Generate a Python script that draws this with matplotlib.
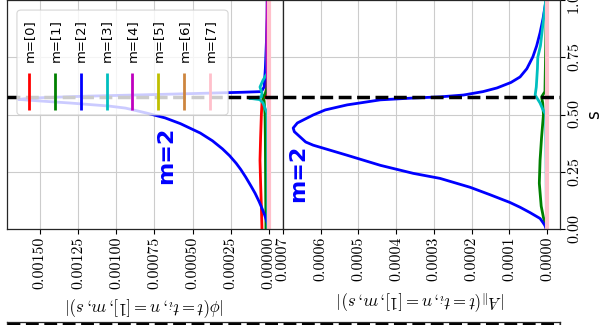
import matplotlib
matplotlib.use("Agg")
import matplotlib.pyplot as plt
from matplotlib.patches import FancyBboxPatch
from matplotlib.ticker import FormatStrFormatter

plt.rcParams['mathtext.fontset'] = 'cm'
plt.rcParams['axes.formatter.use_mathtext'] = True

# ---------------- data ----------------
labels = ['m=[0]', 'm=[1]', 'm=[2]', 'm=[3]', 'm=[4]', 'm=[5]', 'm=[6]', 'm=[7]']
colors = ['r', 'g', 'b', 'c', 'm', 'y', 'peru', 'pink']
s_mark = 0.577

# panel |phi|
phi_s_m0 = [0.0, 0.1, 0.2, 0.3, 0.4, 0.5, 0.56, 0.575, 0.585, 0.6, 0.7, 0.8, 0.9, 1.0]
phi_v_m0 = [4.6e-5, 5.0e-5, 5.5e-5, 5.9e-5, 5.5e-5, 5.0e-5, 4.5e-5, 3.0e-5, 2.0e-5, 1.8e-5, 1.6e-5, 1.3e-5, 1.0e-5, 5e-6]
phi_s_m1 = [0.0, 0.1, 0.2, 0.3, 0.4, 0.5, 0.56, 0.575, 0.59, 0.62, 0.7, 0.8, 0.9, 1.0]
phi_v_m1 = [2.0e-5, 2.1e-5, 2.2e-5, 2.3e-5, 2.4e-5, 2.6e-5, 3.2e-5, 4.2e-5, 2.5e-5, 1.2e-5, 8e-6, 6e-6, 4e-6, 2e-6]
phi_s_m2 = [0.0, 0.02, 0.04, 0.06, 0.079, 0.1, 0.12, 0.156, 0.19, 0.226, 0.26, 0.287, 0.32, 0.35, 0.385, 0.419,
            0.46, 0.485, 0.506, 0.528, 0.537, 0.55, 0.56, 0.566, 0.572, 0.58, 0.588, 0.594, 0.597, 0.6,
            0.62, 0.7, 0.8, 0.9, 1.0]
phi_v_m2 = [0.0, 8e-6, 1.8e-5, 2.8e-5, 3.9e-5, 5.2e-5, 6.5e-5, 9.1e-5, 1.2e-4, 1.52e-4, 1.85e-4, 2.15e-4, 2.58e-4,
            3.05e-4, 3.7e-4, 4.5e-4, 5.8e-4, 6.8e-4, 8.0e-4, 9.4e-4, 1.05e-3, 1.3e-3, 1.52e-3, 1.64e-3, 1.55e-3,
            1.2e-3, 7e-4, 3.5e-4, 1.8e-4, 5e-5, 3.2e-5, 2.4e-5, 1.8e-5, 1.2e-5, 5e-6]
phi_s_m3 = [0.0, 0.2, 0.4, 0.506, 0.55, 0.565, 0.571, 0.577, 0.594, 0.62, 0.65, 0.68, 0.75, 0.85, 1.0]
phi_v_m3 = [8e-6, 9e-6, 1.0e-5, 1.3e-5, 3.9e-5, 6e-5, 1.3e-4, 5e-5, 4.6e-5, 5.9e-5, 3.9e-5, 1.2e-5, 1.4e-5, 1.3e-5, 1.2e-5]
phi_s_m4 = [0.0, 0.5, 0.6, 0.7, 0.8, 0.9, 1.0]
phi_v_m4 = [2e-6, 3e-6, 6e-6, 1.2e-5, 1.5e-5, 1.4e-5, 1.2e-5]
phi_s_m5 = [0.0, 0.5, 1.0]
phi_v_m5 = [2e-6, 3e-6, 2e-6]
phi_s_m6 = [0.0, 0.5, 1.0]
phi_v_m6 = [1e-6, 2e-6, 1e-6]
phi_s_m7 = [0.0, 0.5, 1.0]
phi_v_m7 = [0.0, 0.0, 0.0]

# panel |A_par|
apar_s_m0 = [0.0, 0.5, 1.0]
apar_v_m0 = [1e-6, 2e-6, 1e-6]
apar_s_m1 = [0.0, 0.05, 0.1, 0.2, 0.3, 0.4, 0.5, 0.55, 0.577, 0.6, 0.7, 0.8, 0.9, 1.0]
apar_v_m1 = [1e-6, 1.0e-5, 1.6e-5, 2.1e-5, 1.9e-5, 1.5e-5, 1.0e-5, 1.2e-5, 1.5e-5, 6e-6, 5e-6, 4e-6, 3e-6, 2e-6]
apar_s_m2 = [0.0, 0.015, 0.03, 0.046, 0.072, 0.095, 0.116, 0.15, 0.182, 0.221, 0.243, 0.278, 0.322, 0.366,
             0.38, 0.401, 0.425, 0.441, 0.463, 0.498, 0.52, 0.542, 0.564, 0.572, 0.577, 0.585, 0.6, 0.616,
             0.64, 0.664, 0.7, 0.752, 0.8, 0.857, 0.92, 0.971, 1.0]
apar_v_m2 = [3e-6, 6e-6, 1.2e-5, 1.9e-5, 4.6e-5, 7.2e-5, 9.9e-5, 1.52e-4, 2.04e-4, 2.84e-4, 3.55e-4, 4.42e-4,
             5.30e-4, 6.20e-4, 6.40e-4, 6.54e-4, 6.70e-4, 6.73e-4, 6.62e-4, 6.20e-4, 5.88e-4, 5.30e-4, 4.42e-4,
             3.55e-4, 2.84e-4, 2.22e-4, 1.70e-4, 1.33e-4, 9.6e-5, 7.2e-5, 5.4e-5, 3.8e-5, 2.8e-5, 1.9e-5,
             1.1e-5, 6e-6, 3e-6]
apar_s_m3 = [0.0, 0.3, 0.5, 0.52, 0.55, 0.585, 0.62, 0.7, 0.75, 0.8, 0.9, 0.97, 1.0]
apar_v_m3 = [2e-6, 3e-6, 4e-6, 1.1e-5, 1.9e-5, 3.2e-5, 2.9e-5, 2.6e-5, 2.5e-5, 1.8e-5, 1.1e-5, 6e-6, 4e-6]
apar_s_m4 = [0.0, 0.5, 1.0]
apar_v_m4 = [1e-6, 2e-6, 1e-6]
apar_s_m5 = [0.0, 0.5, 1.0]
apar_v_m5 = [1e-6, 1e-6, 1e-6]
apar_s_m6 = [0.0, 0.5, 1.0]
apar_v_m6 = [1e-6, 1e-6, 1e-6]
apar_s_m7 = [0.0, 0.5, 1.0]
apar_v_m7 = [0.0, 0.0, 0.0]

phi_series = [(phi_s_m0, phi_v_m0), (phi_s_m1, phi_v_m1), (phi_s_m2, phi_v_m2), (phi_s_m3, phi_v_m3),
              (phi_s_m4, phi_v_m4), (phi_s_m5, phi_v_m5), (phi_s_m6, phi_v_m6), (phi_s_m7, phi_v_m7)]
apar_series = [(apar_s_m0, apar_v_m0), (apar_s_m1, apar_v_m1), (apar_s_m2, apar_v_m2), (apar_s_m3, apar_v_m3),
               (apar_s_m4, apar_v_m4), (apar_s_m5, apar_v_m5), (apar_s_m6, apar_v_m6), (apar_s_m7, apar_v_m7)]

phi_ticks = [0.0, 0.00025, 0.0005, 0.00075, 0.001, 0.00125, 0.0015]
apar_ticks = [0.0, 0.0001, 0.0002, 0.0003, 0.0004, 0.0005, 0.0006, 0.0007]
s_ticks = [0.0, 0.25, 0.5, 0.75, 1.0]

# ---------------- figure ----------------
W, H = 602, 325
fig = plt.figure(figsize=(W / 100, H / 100), dpi=100)

ax1 = fig.add_axes([7 / W, (H - 229) / H, 276 / W, 229 / H])
ax2 = fig.add_axes([283 / W, (H - 229) / H, 276.5 / W, 229 / H])
ax3 = fig.add_axes([7 / W, -0.2, 553 / W, 0.2 + (H - 321.5) / H])

for ax, series, ticks, fmt, xlim, lab in [
        (ax1, phi_series, phi_ticks, '%.5f', (0.001716, -0.0000917), r'$|\phi(t = t_i, n = [1], m, s)|$'),
        (ax2, apar_series, apar_ticks, '%.4f', (0.0007, -0.0000325), r'$|A_{\|}(t = t_i, n = [1], m, s)|$')]:
    for i, (ss, vv) in enumerate(series):
        lw = 3 if i == 7 else 2
        ax.plot(vv, ss, color=colors[i], lw=lw, zorder=2 + i * 0.01, solid_joinstyle='round')
    ax.axhline(s_mark, color='k', ls='--', lw=2.5, zorder=3)
    ax.set_xlim(*xlim)
    ax.set_ylim(0, 1)
    ax.set_xticks(ticks)
    ax.xaxis.set_major_formatter(FormatStrFormatter(fmt))
    ax.set_yticks(s_ticks)
    ax.yaxis.tick_right()
    ax.grid(True, color='0.8', lw=0.8, zorder=0)
    ax.set_axisbelow(True)
    ax.tick_params(axis='x', labelrotation=90, length=3.5, width=0.8, pad=2)
    ax.tick_params(axis='y', length=3.5, width=0.8, pad=2)
    for t in ax.get_xticklabels():
        t.set_fontfamily('cmr10')
        t.set_fontsize(11.5)
    ax.set_xlabel(lab, rotation=180, fontsize=12, labelpad=4)
    for sp in ax.spines.values():
        sp.set_linewidth(0.9)
        sp.set_color('0.15')

ax1.tick_params(axis='y', labelright=False)
for t in ax2.get_yticklabels():
    t.set_fontfamily('cmr10')
    t.set_fontsize(11.5)
    t.set_rotation(90)
    t.set_va('center')
ax2.yaxis.set_label_position('right')
ax2.set_ylabel('s', fontsize=12, labelpad=2)

ax1.text(0.576, 0.323, 'm=2', transform=ax1.transAxes, rotation=90, color='b',
         fontsize=16, fontweight='bold', ha='center', va='center', zorder=4)
ax2.text(0.054, 0.245, 'm=2', transform=ax2.transAxes, rotation=90, color='b',
         fontsize=16, fontweight='bold', ha='center', va='center', zorder=4)

# manual legend (entries rotated)
frame = FancyBboxPatch((0.036, 0.498), 0.765, 0.458, transform=ax1.transAxes,
                       boxstyle='round,pad=0,rounding_size=0.015', facecolor='white', alpha=0.8,
                       edgecolor='0.8', lw=0.8, zorder=5)
ax1.add_patch(frame)
x0, dx = 0.0797, 0.0937
for i, lab in enumerate(labels):
    xc = x0 + i * dx
    ax1.plot([xc, xc], [0.520, 0.681], transform=ax1.transAxes, color=colors[i], lw=2,
             zorder=6, solid_capstyle='butt')
    ax1.text(xc, 0.729, lab, transform=ax1.transAxes, rotation=90, ha='center', va='bottom',
             fontsize=9.5, zorder=6)

# neighbouring panel strip at the bottom
ax3.set_xlim(0, 1)
ax3.set_ylim(0, 1)
ax3.set_xticks([])
ax3.set_yticks([])
ax3.axhline(0.965, color='k', ls='--', lw=2.5)
for sp in ax3.spines.values():
    sp.set_linewidth(0.9)
    sp.set_color('0.15')

fig.savefig('out.png', dpi=100)
